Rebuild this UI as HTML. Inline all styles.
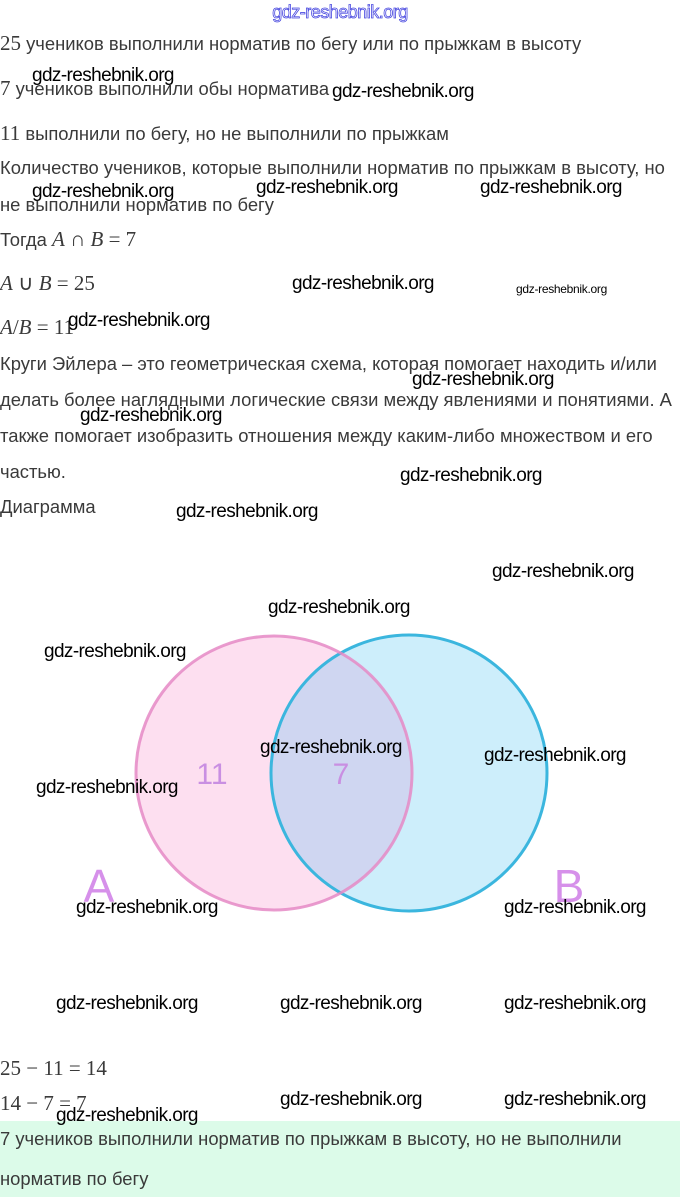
<!DOCTYPE html>
<html><head><meta charset="utf-8"><style>
body{margin:0;width:680px;height:1197px;background:#fff;position:relative;overflow:hidden;font-family:"Liberation Sans",sans-serif;}
.t{position:absolute;left:0;font-size:18.4px;color:#3a3a3a;white-space:nowrap;line-height:20px;}
.m{font-family:"Liberation Serif",serif;font-size:21px;}
.w{position:absolute;font-size:19px;color:#000;white-space:nowrap;line-height:20px;letter-spacing:-0.6px;}
</style></head><body>
<div style="position:absolute;left:0;width:680px;text-align:center;top:2px;font-size:18px;color:#fff;-webkit-text-stroke:0.8px #4a4ae0;letter-spacing:-0.5px">gdz-reshebnik.org</div>

<div class="t" style="top:33px"><span class="m">25</span> учеников выполнили норматив по бегу или по прыжкам в высоту</div>
<div class="t" style="top:78px"><span class="m">7</span> учеников выполнили обы норматива</div>
<div class="t" style="top:123px"><span class="m">11</span> выполнили по бегу, но не выполнили по прыжкам</div>
<div class="t" style="top:158px">Количество учеников, которые выполнили норматив по прыжкам в высоту, но</div>
<div class="t" style="top:195px">не выполнили норматив по бегу</div>
<div class="t" style="top:229px">Тогда <span class="m"><i>A</i> ∩ <i>B</i> = 7</span></div>
<div class="t" style="top:273px"><span class="m"><i>A</i> ∪ <i>B</i> = 25</span></div>
<div class="t" style="top:317px"><span class="m"><i>A</i>/<i>B</i> = 11</span></div>
<div class="t" style="top:354px">Круги Эйлера – это геометрическая схема, которая помогает находить и/или</div>
<div class="t" style="top:390px">делать более наглядными логические связи между явлениями и понятиями. А</div>
<div class="t" style="top:426px">также помогает изобразить отношения между каким-либо множеством и его</div>
<div class="t" style="top:462px">частью.</div>
<div class="t" style="top:497px">Диаграмма</div>

<svg style="position:absolute;left:0;top:0" width="680" height="1197">
<defs><clipPath id="ca"><ellipse cx="274" cy="773" rx="138" ry="137"/></clipPath></defs>
<ellipse cx="274" cy="773" rx="138" ry="137" fill="#fddff0"/>
<ellipse cx="409" cy="773" rx="138" ry="138" fill="#cdeefb"/>
<ellipse cx="409" cy="773" rx="138" ry="138" fill="#cfd6f1" clip-path="url(#ca)"/>
<ellipse cx="409" cy="773" rx="138" ry="138" fill="none" stroke="#3bb6de" stroke-width="3"/>
<ellipse cx="274" cy="773" rx="138" ry="137" fill="none" stroke="#e58ac6" stroke-width="3" opacity="0.85"/>
<text x="212" y="784" font-family="Liberation Sans" font-size="30" fill="#c98fe2" text-anchor="middle">11</text>
<text x="341" y="784" font-family="Liberation Sans" font-size="30" fill="#c98fe2" text-anchor="middle">7</text>
<text x="99" y="902" font-family="Liberation Sans" font-size="46" fill="#d690ea" text-anchor="middle">A</text>
<text x="569" y="902" font-family="Liberation Sans" font-size="46" fill="#d690ea" text-anchor="middle">B</text>
</svg>

<div class="t" style="top:1058px"><span class="m">25 − 11 = 14</span></div>
<div class="t" style="top:1093px"><span class="m">14 − 7 = 7</span></div>
<div style="position:absolute;left:0;top:1121px;width:680px;height:76px;background:#dcfbe9"></div>
<div class="t" style="top:1129px">7 учеников выполнили норматив по прыжкам в высоту, но не выполнили</div>
<div class="t" style="top:1169px">норматив по бегу</div>

<div class="w" style="left:32px;top:66px">gdz-reshebnik.org</div>
<div class="w" style="left:332px;top:82px">gdz-reshebnik.org</div>
<div class="w" style="left:32px;top:182px">gdz-reshebnik.org</div>
<div class="w" style="left:256px;top:178px">gdz-reshebnik.org</div>
<div class="w" style="left:480px;top:178px">gdz-reshebnik.org</div>
<div class="w" style="left:292px;top:274px">gdz-reshebnik.org</div>
<div class="w" style="left:516px;top:279px;font-size:12px;letter-spacing:-0.3px">gdz-reshebnik.org</div>
<div class="w" style="left:68px;top:311px">gdz-reshebnik.org</div>
<div class="w" style="left:412px;top:370px">gdz-reshebnik.org</div>
<div class="w" style="left:80px;top:406px">gdz-reshebnik.org</div>
<div class="w" style="left:400px;top:466px">gdz-reshebnik.org</div>
<div class="w" style="left:176px;top:502px">gdz-reshebnik.org</div>
<div class="w" style="left:492px;top:562px">gdz-reshebnik.org</div>
<div class="w" style="left:268px;top:598px">gdz-reshebnik.org</div>
<div class="w" style="left:44px;top:642px">gdz-reshebnik.org</div>
<div class="w" style="left:260px;top:738px">gdz-reshebnik.org</div>
<div class="w" style="left:484px;top:746px">gdz-reshebnik.org</div>
<div class="w" style="left:36px;top:778px">gdz-reshebnik.org</div>
<div class="w" style="left:76px;top:898px">gdz-reshebnik.org</div>
<div class="w" style="left:504px;top:898px">gdz-reshebnik.org</div>
<div class="w" style="left:56px;top:994px">gdz-reshebnik.org</div>
<div class="w" style="left:280px;top:994px">gdz-reshebnik.org</div>
<div class="w" style="left:504px;top:994px">gdz-reshebnik.org</div>
<div class="w" style="left:280px;top:1090px">gdz-reshebnik.org</div>
<div class="w" style="left:504px;top:1090px">gdz-reshebnik.org</div>
<div class="w" style="left:56px;top:1106px">gdz-reshebnik.org</div>
</body></html>
